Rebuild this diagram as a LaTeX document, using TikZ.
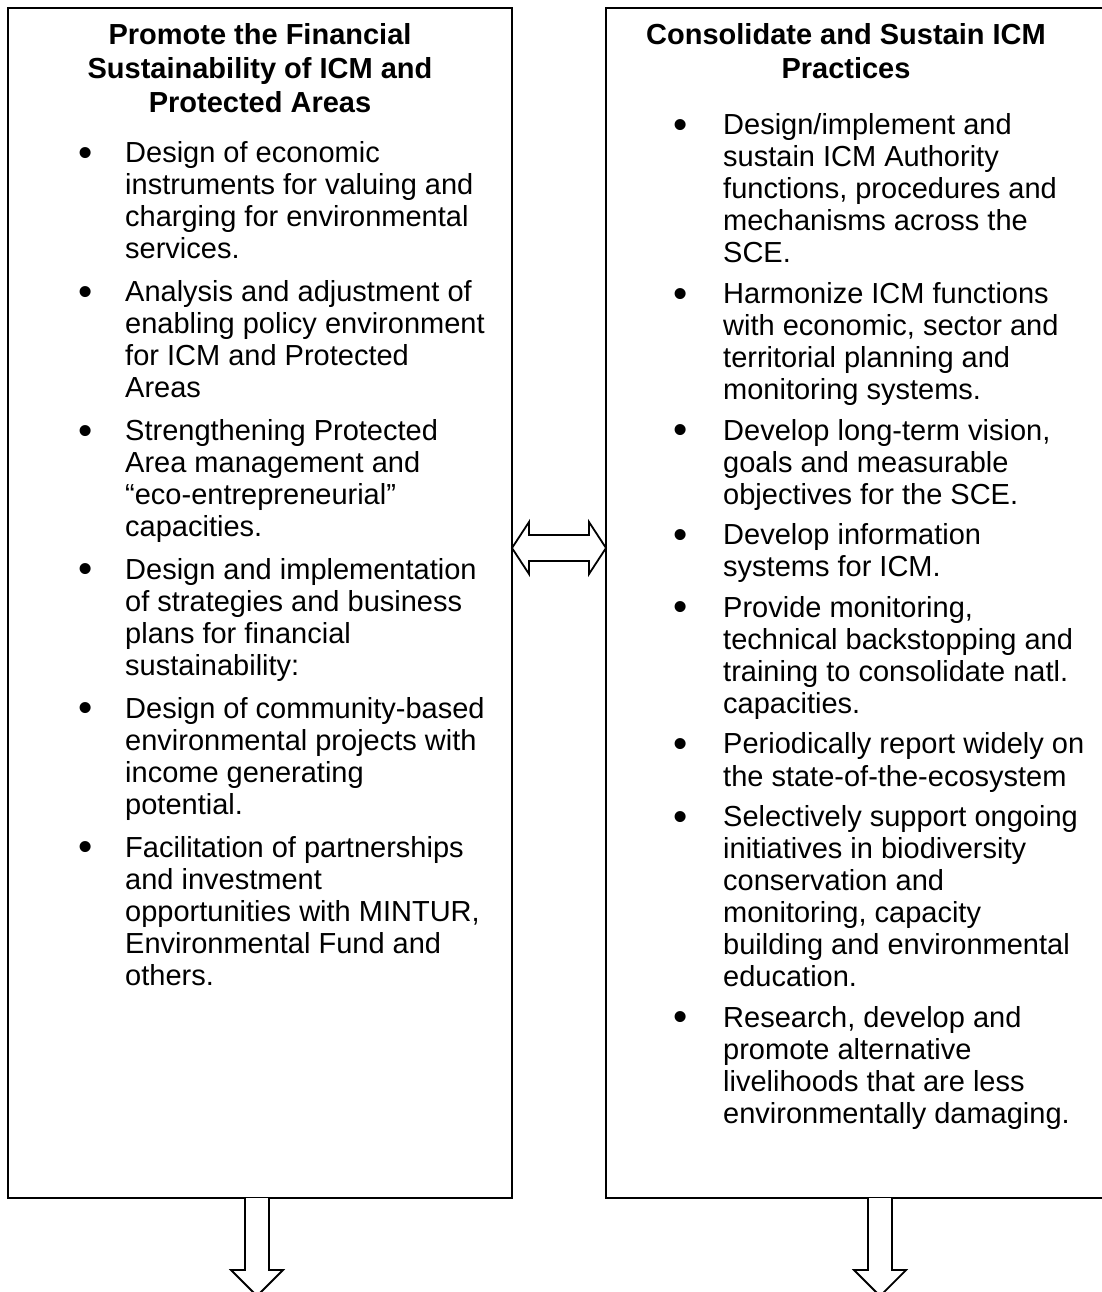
\documentclass[tikz,border=0pt]{standalone}
\usepackage{fontspec}
\setmainfont{Liberation Sans}
\usetikzlibrary{calc}
\newcommand\bulletcell[1]{\makebox[#1][l]{\raisebox{-3.5pt}{\scalebox{1.4}{\textbullet}}}}
\begin{document}
\begin{tikzpicture}[x=1pt,y=-1pt,
  box/.style={draw,line width=2.5pt,inner sep=0pt,outer sep=0pt,rectangle},
  ttl/.style={inner sep=0pt,font=\fontsize{29}{34}\selectfont\bfseries},
  body/.style={inner sep=0pt,font=\fontsize{29}{32}\selectfont},
  blk/.style={draw,line width=1.8pt,fill=white,line join=miter}]
\useasboundingbox (0,0) rectangle (1101,1292);

% boxes
\node[box,minimum width=504pt,minimum height=1190pt,anchor=north west] (L) at (8,8) {};
\node[box,minimum width=504pt,minimum height=1190pt,anchor=north west] (R) at (606,8) {};

% titles
\node[ttl,anchor=base] (Lt) at (260,45) {\begin{tabular}[t]{@{}c@{}}Promote the Financial\\Sustainability of ICM and\\Protected Areas\end{tabular}};
\node[ttl,anchor=base] (Rt) at (846,45) {\begin{tabular}[t]{@{}c@{}}Consolidate and Sustain ICM\\Practices\end{tabular}};

% left list
\node[body,anchor=base west] (Lb) at (78,163) {\begin{tabular}[t]{@{}l@{}l@{}}
\bulletcell{47pt} & Design of economic\\
 & instruments for valuing and\\
 & charging for environmental\\
 & services.\\[10.8pt]
\bulletcell{47pt} & Analysis and adjustment of\\
 & enabling policy environment\\
 & for ICM and Protected\\
 & Areas\\[10.8pt]
\bulletcell{47pt} & Strengthening Protected\\
 & Area management and\\
 & “eco-entrepreneurial”\\
 & capacities.\\[10.8pt]
\bulletcell{47pt} & Design and implementation\\
 & of strategies and business\\
 & plans for financial\\
 & sustainability:\\[10.8pt]
\bulletcell{47pt} & Design of community-based\\
 & environmental projects with\\
 & income generating\\
 & potential.\\[10.8pt]
\bulletcell{47pt} & Facilitation of partnerships\\
 & and investment\\
 & opportunities with MINTUR,\\
 & Environmental Fund and\\
 & others.
\end{tabular}};

% right list
\node[body,anchor=base west] (Rb) at (673,135) {\begin{tabular}[t]{@{}l@{}l@{}}
\bulletcell{50pt} & Design/implement and\\
 & sustain ICM Authority\\
 & functions, procedures and\\
 & mechanisms across the\\
 & SCE.\\[8.6pt]
\bulletcell{50pt} & Harmonize ICM functions\\
 & with economic, sector and\\
 & territorial planning and\\
 & monitoring systems.\\[8.6pt]
\bulletcell{50pt} & Develop long-term vision,\\
 & goals and measurable\\
 & objectives for the SCE.\\[8.6pt]
\bulletcell{50pt} & Develop information\\
 & systems for ICM.\\[8.6pt]
\bulletcell{50pt} & Provide monitoring,\\
 & technical backstopping and\\
 & training to consolidate natl.\\
 & capacities.\\[8.6pt]
\bulletcell{50pt} & Periodically report widely on\\
 & the state-of-the-ecosystem\\[8.6pt]
\bulletcell{50pt} & Selectively support ongoing\\
 & initiatives in biodiversity\\
 & conservation and\\
 & monitoring, capacity\\
 & building and environmental\\
 & education.\\[8.6pt]
\bulletcell{50pt} & Research, develop and\\
 & promote alternative\\
 & livelihoods that are less\\
 & environmentally damaging.
\end{tabular}};

% double block arrow between boxes
\coordinate (tipL) at ($(L.north east)+(0,540)$);
\coordinate (tipR) at ($(R.north west)+(0,540)$);
\draw[blk] (tipL) -- ++(17,-26) -- ++(0,13) -- ($(tipR)+(-17,-13)$) -- ++(0,-13)
  -- (tipR) -- ++(-17,26) -- ++(0,-13) -- ($(tipL)+(17,13)$) -- ++(0,13) -- cycle;

% down block arrows
\coordinate (dL) at ($(L.south west)+(249,0)$);
\coordinate (dR) at ($(R.south west)+(274,0)$);
\draw[blk] ($(dL)+(-12,0)$) -- ++(0,72) -- ++(-14,0) -- ($(dL)+(0,98)$)
  -- ($(dL)+(26,72)$) -- ++(-14,0) -- ($(dL)+(12,0)$);
\draw[blk] ($(dR)+(-12,0)$) -- ++(0,72) -- ++(-14,0) -- ($(dR)+(0,98)$)
  -- ($(dR)+(26,72)$) -- ++(-14,0) -- ($(dR)+(12,0)$);
\end{tikzpicture}
\end{document}
